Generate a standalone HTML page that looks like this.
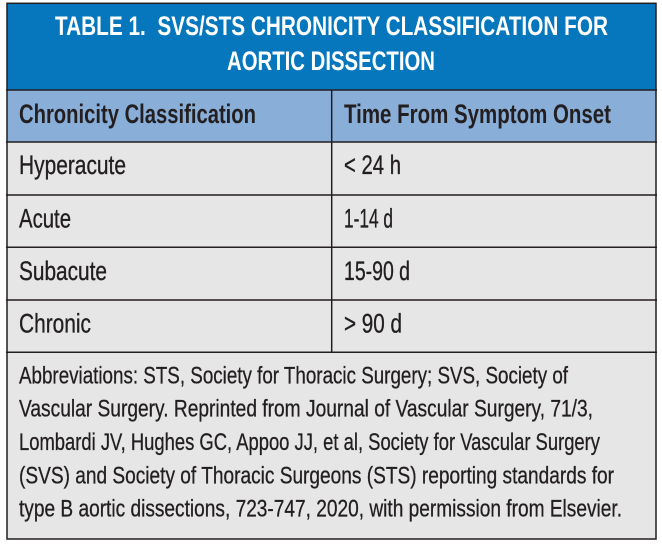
<!DOCTYPE html>
<html>
<head>
<meta charset="utf-8">
<style>
  html, body { margin:0; padding:0; background:#ffffff; }
  svg { display:block; }
  text { font-family: "Liberation Sans Narrow", "Liberation Sans", sans-serif; white-space: pre; }
  .t { fill:#ffffff; font-weight:bold; font-size:27px; }
  .h { fill:#231f20; font-weight:bold; font-size:27px; }
  .r { fill:#231f20; font-size:27px; stroke:#231f20; stroke-width:0.35px; }
  .f { fill:#231f20; font-size:24px; stroke:#231f20; stroke-width:0.3px; }
</style>
</head>
<body>
<svg width="662" height="546" viewBox="0 0 662 546" xmlns="http://www.w3.org/2000/svg">
  <rect x="0" y="0" width="662" height="546" fill="#ffffff"/>
  <!-- backgrounds -->
  <rect x="7" y="3" width="649" height="87" fill="#0677bd"/>
  <rect x="7" y="90" width="649" height="52" fill="#89aed8"/>
  <rect x="7" y="142" width="649" height="397" fill="#e6e6e6"/>

  <!-- grid lines -->
  <g stroke="#231f20" stroke-width="1.5" fill="none">
    <rect x="7" y="3.3" width="649" height="535.7"/>
    <line x1="6" y1="90" x2="657" y2="90"/>
    <line x1="6" y1="142" x2="657" y2="142"/>
    <line x1="6" y1="195" x2="657" y2="195"/>
    <line x1="6" y1="247.3" x2="657" y2="247.3"/>
    <line x1="6" y1="300" x2="657" y2="300"/>
    <line x1="6" y1="352.3" x2="657" y2="352.3"/>
    <line x1="331.7" y1="90" x2="331.7" y2="352.3"/>
  </g>

  <!-- title -->
  <text class="t" x="55" y="35" textLength="553" lengthAdjust="spacingAndGlyphs">TABLE 1.  SVS/STS CHRONICITY CLASSIFICATION FOR</text>
  <text class="t" x="227" y="70" textLength="208" lengthAdjust="spacingAndGlyphs">AORTIC DISSECTION</text>

  <!-- column headers -->
  <text class="h" x="19" y="123" textLength="237" lengthAdjust="spacingAndGlyphs">Chronicity Classification</text>
  <text class="h" x="344" y="123" textLength="267" lengthAdjust="spacingAndGlyphs">Time From Symptom Onset</text>

  <!-- rows -->
  <text class="r" x="19" y="174" textLength="107" lengthAdjust="spacingAndGlyphs">Hyperacute</text>
  <text class="r" x="344" y="174" textLength="57" lengthAdjust="spacingAndGlyphs">&lt; 24 h</text>

  <text class="r" x="19" y="227.3" textLength="52" lengthAdjust="spacingAndGlyphs">Acute</text>
  <text class="r" x="344" y="227.3" textLength="49" lengthAdjust="spacingAndGlyphs">1-14 d</text>

  <text class="r" x="19" y="280" textLength="88" lengthAdjust="spacingAndGlyphs">Subacute</text>
  <text class="r" x="344" y="280" textLength="66" lengthAdjust="spacingAndGlyphs">15-90 d</text>

  <text class="r" x="19" y="332.7" textLength="72" lengthAdjust="spacingAndGlyphs">Chronic</text>
  <text class="r" x="344" y="332.7" textLength="58" lengthAdjust="spacingAndGlyphs">&gt; 90 d</text>

  <!-- footnote -->
  <text class="f" x="19" y="383.3" textLength="549" lengthAdjust="spacingAndGlyphs">Abbreviations: STS, Society for Thoracic Surgery; SVS, Society of</text>
  <text class="f" x="19" y="416.7" textLength="574" lengthAdjust="spacingAndGlyphs">Vascular Surgery. Reprinted from Journal of Vascular Surgery, 71/3,</text>
  <text class="f" x="19" y="450" textLength="581" lengthAdjust="spacingAndGlyphs">Lombardi JV, Hughes GC, Appoo JJ, et al, Society for Vascular Surgery</text>
  <text class="f" x="19" y="483.3" textLength="595" lengthAdjust="spacingAndGlyphs">(SVS) and Society of Thoracic Surgeons (STS) reporting standards for</text>
  <text class="f" x="19" y="516.7" textLength="603" lengthAdjust="spacingAndGlyphs">type B aortic dissections, 723-747, 2020, with permission from Elsevier.</text>
</svg>
</body>
</html>
